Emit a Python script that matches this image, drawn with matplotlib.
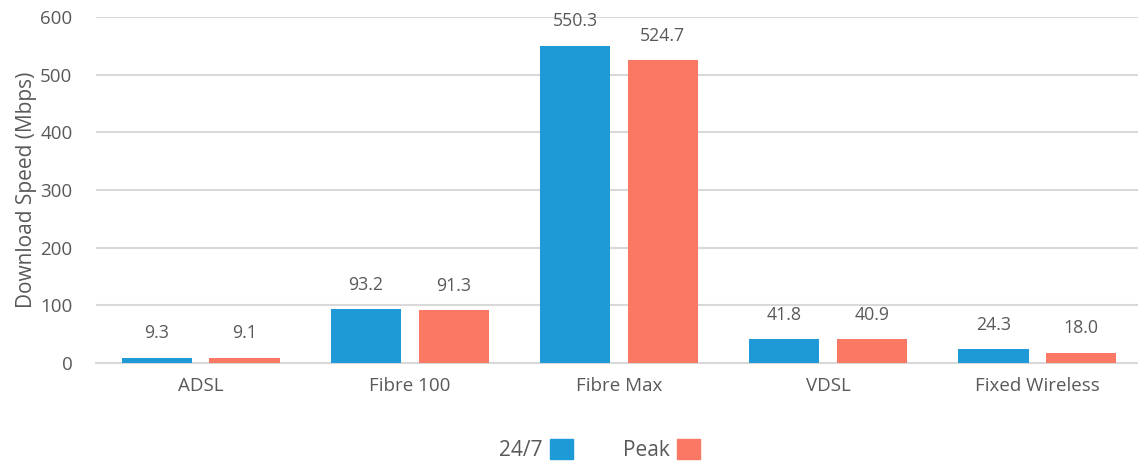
import matplotlib.pyplot as plt
import numpy as np
from matplotlib.patches import Patch

categories = ['ADSL', 'Fibre 100', 'Fibre Max', 'VDSL', 'Fixed Wireless']
speed_247 = [9.3, 93.2, 550.3, 41.8, 24.3]
speed_peak = [9.1, 91.3, 524.7, 40.9, 18.0]
series_names = ['24/7', 'Peak']

blue = '#1E9BD7'
red = '#FA7864'
text_col = '#595959'
grid_col = '#D9D9D9'

plt.rcParams['font.family'] = ['Open Sans', 'DejaVu Sans']

fig = plt.figure(figsize=(11.38, 4.65), dpi=100)
ax = fig.add_axes([96 / 1138, 102 / 465, 1046 / 1138, 346 / 465])

x = np.arange(len(categories))
w = 0.335
off = 0.21
b1 = ax.bar(x - off, speed_247, w, color=blue, zorder=3)
b2 = ax.bar(x + off, speed_peak, w, color=red, zorder=3)

for bars, vals in [(b1, speed_247), (b2, speed_peak)]:
    for rect, v in zip(bars, vals):
        ax.annotate('%.1f' % v, (rect.get_x() + rect.get_width() / 2, v),
                    xytext=(0, 11), textcoords='offset points',
                    ha='center', va='bottom', fontsize=12.8, color=text_col)

ax.set_xlim(-0.5, len(categories) - 0.5)
ax.set_ylim(0, 600)
ax.set_yticks(range(0, 601, 100))
ax.set_xticks(x)
ax.set_xticklabels(categories)
ax.yaxis.grid(True, color=grid_col, linewidth=1.5, zorder=0)
ax.tick_params(axis='both', length=0, labelsize=13.5, labelcolor=text_col)
ax.tick_params(axis='y', pad=17)
ax.tick_params(axis='x', pad=10)
for s in ['top', 'right', 'left']:
    ax.spines[s].set_visible(False)
ax.spines['bottom'].set_color(grid_col)
ax.spines['bottom'].set_linewidth(1.5)
ax.set_ylabel('Download Speed (Mbps)', fontsize=15, color=text_col, labelpad=2)

handles = [Patch(color=blue), Patch(color=red)]
fig.legend(handles, series_names, loc='center', bbox_to_anchor=(0.527, 15 / 465),
           ncol=2, markerfirst=False, frameon=False, fontsize=15,
           handlelength=1.1, handleheight=1.1, handletextpad=0.35,
           columnspacing=2.4, labelcolor=text_col)

plt.savefig('out.png', dpi=100)
